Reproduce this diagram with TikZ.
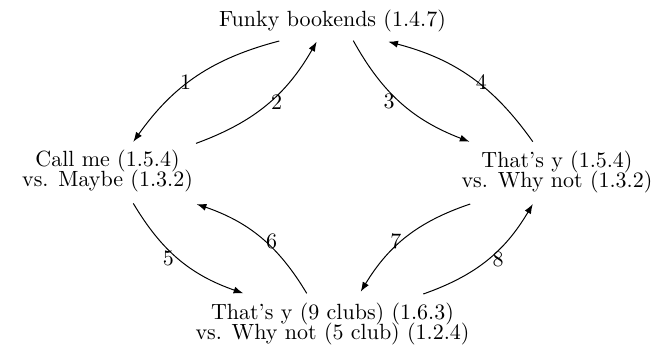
\documentclass[tikz,border=0pt]{standalone}
\usetikzlibrary{calc,arrows.meta}
\begin{document}
\begin{tikzpicture}[x=0.4545pt,y=-0.4545pt,
  state/.style={align=center, inner sep=0pt},
  arr/.style={-{Latex[length=4.4pt,width=3.2pt]}, line width=0.45pt},
  lab/.style={inner sep=0pt}]
\useasboundingbox (0,0) rectangle (658,347);
\node[state] (top) at (332.5,21.2) {Funky bookends (1.4.7)};
\node[state] (left) at (107.5,171.3) {Call me (1.5.4)\\[-2.9pt] vs. Maybe (1.3.2)};
\node[state] (right) at (557,171.8) {That's y (1.5.4)\\[-2.9pt] vs. Why not (1.3.2)};
\node[state] (bottom) at (332.5,323.8) {That's y (9 clubs) (1.6.3)\\[-2.9pt] vs. Why not (5 club) (1.2.4)};
% top <-> left
\draw[arr] ($(top.center)+(-53.2,19.8)$) to[bend right=20] node[lab, shift={(-10.5,5)}] {1} ($(left.center)+(25.8,-29.5)$);
\draw[arr] ($(left.center)+(88.5,-27.9)$) to[bend right=20] node[lab, shift={(10.1,-2.9)}] {2} ($(top.center)+(-15.8,20.5)$);
% top <-> right
\draw[arr] ($(top.center)+(20.8,19.5)$) to[bend right=20] node[lab, shift={(-12.2,-1.2)}] {3} ($(right.center)+(-87.5,-30.1)$);
\draw[arr] ($(right.center)+(-24.2,-30.1)$) to[bend right=20] node[lab, shift={(10.8,4.6)}] {4} ($(top.center)+(55.8,20.5)$);
% left <-> bottom
\draw[arr] ($(left.center)+(25.8,32.1)$) to[bend right=20] node[lab, shift={(-11,-1)}] {5} ($(bottom.center)+(-89.2,-30.5)$);
\draw[arr] ($(bottom.center)+(-25.8,-30.5)$) to[bend right=20] node[lab, shift={(11,4.1)}] {6} ($(left.center)+(89.2,32.8)$);
% right <-> bottom
\draw[arr] ($(right.center)+(-86.8,32.2)$) to[bend right=20] node[lab, shift={(-10.9,4.9)}] {7} ($(bottom.center)+(28.2,-32.1)$);
\draw[arr] ($(bottom.center)+(90.8,-29.8)$) to[bend right=20] node[lab, shift={(11,-0.8)}] {8} ($(right.center)+(-24.2,32.2)$);
\end{tikzpicture}
\end{document}
